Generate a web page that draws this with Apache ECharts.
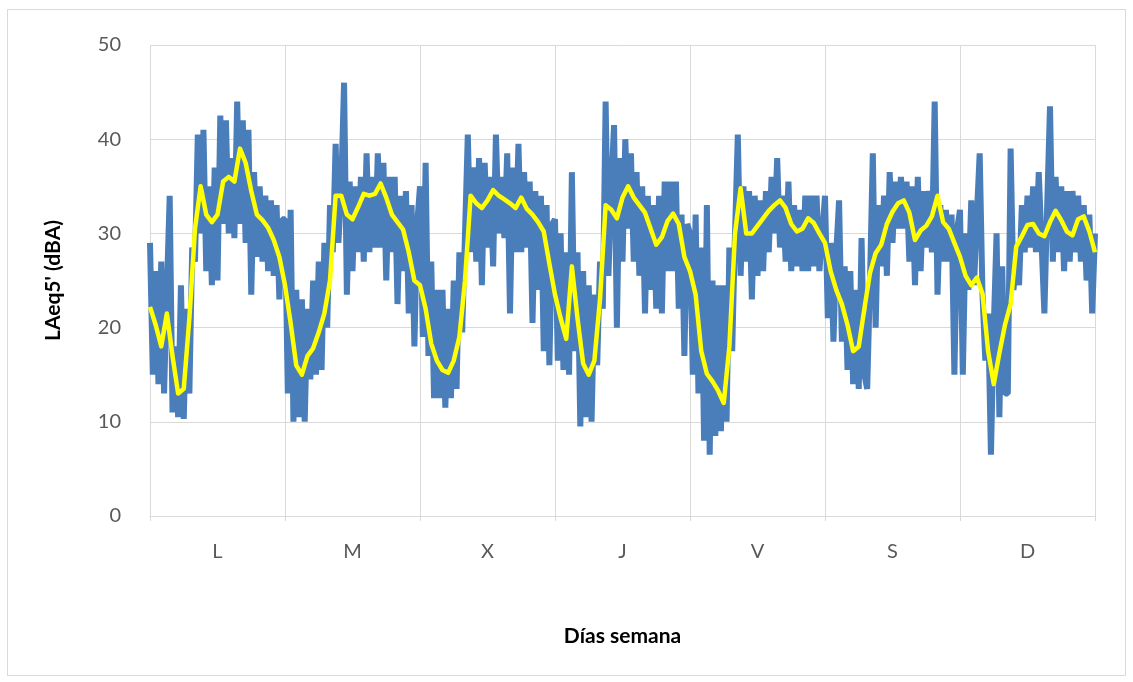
<!DOCTYPE html>
<html>
<head>
<meta charset="utf-8">
<script src="https://cdn.jsdelivr.net/npm/echarts@6/dist/echarts.min.js"></script>
<style>
  html, body { margin: 0; padding: 0; background: #ffffff; }
  #chart { width: 1133px; height: 682px; }
</style>
</head>
<body>
<div id="chart"></div>
<script>
// Day labels along the x axis (one band per day)
const dayLabels = ['L', 'M', 'X', 'J', 'V', 'S', 'D'];

// LAeq 5-minute levels, sampled every half hour (48 values per day)
const blueL = [29, 15, 26, 14, 27, 13, 24, 34, 11, 18, 10.5, 24.5, 10.3, 22, 13, 28.5,
  27, 40.5, 30, 41, 26, 35, 24.5, 37, 25, 42.5, 31, 42, 30, 38, 29.5, 44,
  31, 42, 29, 41, 23.5, 36.5, 27.5, 35, 27, 34, 26, 33.5, 25.5, 33, 23, 31.5];
const blueM = [31.5, 13, 32.5, 10, 24, 10.5, 23, 10, 22, 14.5, 25, 15, 27, 15.5, 29, 20,
  33, 28, 39.5, 29, 35, 46, 23.5, 35.5, 26, 35, 28, 36, 27, 38.5, 28, 36,
  28.5, 38.5, 28.5, 37.5, 25, 36, 28, 36, 22.5, 34, 26, 34.5, 21.5, 33, 18, 31];
const blueX = [35, 19, 37.5, 17, 27, 12.5, 24, 12.5, 24, 11.5, 22, 12.5, 25, 13.5, 28, 19.5,
  30, 40.5, 28, 37, 27, 38, 24.5, 37.5, 28.5, 36, 26.5, 40.5, 30, 36, 29.5, 38.5,
  21.5, 37, 28, 39.5, 28, 36.5, 28.5, 35.5, 20.5, 34.5, 24, 34, 17.5, 33, 16, 31];
const blueJ = [31.5, 16.5, 30, 15.5, 28, 15, 36.5, 17.5, 28, 9.5, 26, 10.5, 24.5, 10, 23.5, 16,
  27, 22, 44, 25.5, 35, 41.5, 20, 38, 27, 40, 30.5, 38.5, 27, 36.5, 25.5, 35,
  21.5, 34, 24, 33, 22, 34, 21.5, 35.5, 26, 35.5, 26, 35.5, 22, 32, 17, 31];
const blueV = [30, 15, 32, 13, 28.5, 8, 33, 6.5, 25, 8.5, 24.5, 9, 24.5, 10, 28.5, 17.5,
  30, 40.5, 25.5, 35, 27, 34.5, 23, 34, 25.5, 33.5, 26, 34.5, 28, 36, 30, 38,
  28.5, 34, 27, 35.5, 26, 33, 26.5, 32.5, 26, 34, 26, 34, 26.5, 34, 26, 30];
const blueS = [34, 21, 29, 18.5, 28, 33.5, 18.5, 26.5, 15.5, 26, 14, 24, 13.5, 29.5, 15, 13.5,
  25, 38.5, 20, 33, 26.5, 34, 25.5, 36.5, 29, 35.5, 30.5, 36, 30.5, 35.5, 27, 35,
  24.5, 36, 26, 34.5, 28.5, 34.5, 28, 44, 23.5, 33, 27, 32.5, 27, 32, 15, 30.5];
const blueD = [32.5, 15, 30, 24, 33.5, 24.5, 32, 38.5, 23.5, 16.5, 21.5, 6.5, 20, 30, 10.5, 26.5,
  13, 13, 39, 24, 27, 24.5, 33, 28, 34, 28.5, 35, 28, 36.5, 29, 21.5, 33,
  43.5, 27, 36, 28, 35, 26, 34.5, 27, 34.5, 28, 34, 27, 33, 25, 32, 21.5, 30];

// Running mean of the same levels, one value per hour
const yellowL = [22.2, 20.3, 18, 21.5, 17, 13, 13.5, 21, 30.5, 35, 32, 31.2,
  32, 35.5, 36, 35.5, 39, 37.5, 34.5, 32, 31.4, 30.6, 29.3, 27.5];
const yellowM = [24.5, 20.5, 16, 15, 17, 17.8, 19.5, 21.5, 25, 34, 34, 32,
  31.5, 32.8, 34.2, 34, 34.2, 35.3, 33.8, 32, 31.2, 30.4, 28, 25];
const yellowX = [24.5, 22, 18.3, 16.5, 15.5, 15.2, 16.5, 19, 25, 34, 33.2, 32.7,
  33.5, 34.6, 34, 33.6, 33.2, 32.7, 33.8, 32.6, 32, 31.2, 30.2, 26.8];
const yellowJ = [23.5, 21, 18.8, 26.5, 21, 16.2, 15, 16.5, 23, 33, 32.5, 31.6,
  33.8, 35, 33.8, 33, 32.2, 30.5, 28.8, 29.6, 31.3, 32.1, 31, 27.5];
const yellowV = [26, 23.5, 17.5, 15.1, 14.3, 13.3, 12, 18, 30, 34.8, 30, 30,
  30.8, 31.6, 32.4, 33, 33.5, 32.7, 31, 30.2, 30.5, 31.6, 31.1, 30];
const yellowS = [29, 26, 24, 22.5, 20.3, 17.5, 18, 22, 25.8, 27.9, 28.8, 31,
  32.3, 33.2, 33.5, 32.2, 29.3, 30.3, 30.8, 31.8, 34, 31.2, 30.5, 29];
const yellowD = [27.5, 25.5, 24.5, 25.3, 23.6, 17.5, 14, 17.3, 20.3, 22.5, 28.6, 29.7,
  30.9, 31, 30, 29.7, 31.2, 32.4, 31.4, 30.2, 29.8, 31.5, 31.8, 30.2, 28];

const blue = [].concat(blueL, blueM, blueX, blueJ, blueV, blueS, blueD);
const yellow = [].concat(yellowL, yellowM, yellowX, yellowJ, yellowV, yellowS, yellowD);

// x position in days: sample index divided by samples per day
const blueData = blue.map((v, i) => [i / 48, v]);
const yellowData = yellow.map((v, i) => [i / 24, v]);

const chart = echarts.init(document.getElementById('chart'), null, { renderer: 'canvas' });

const labelFont = 'Lato, "Open Sans", "Liberation Sans", sans-serif';

chart.setOption({
  animation: false,
  backgroundColor: '#ffffff',
  graphic: [{
    type: 'rect',
    shape: { x: 7.5, y: 9.5, width: 1118, height: 666 },
    style: { fill: 'none', stroke: '#d9d9d9', lineWidth: 1 },
    silent: true
  }],
  grid: { left: 150, right: 38, top: 45, bottom: 166 },
  xAxis: [{
    type: 'value',
    min: 0,
    max: 7,
    interval: 1,
    axisLine: { show: true, lineStyle: { color: '#d9d9d9', width: 1 } },
    axisTick: { show: true, length: 5, lineStyle: { color: '#d9d9d9' } },
    axisLabel: { show: false },
    splitLine: { show: true, lineStyle: { color: '#d9d9d9', width: 1 } }
  }, {
    type: 'category',
    data: dayLabels,
    position: 'bottom',
    boundaryGap: true,
    axisLine: { show: false },
    axisTick: { show: false },
    splitLine: { show: false },
    axisLabel: { margin: 26, color: '#595959', fontSize: 20, fontFamily: labelFont },
    name: 'Días semana',
    nameLocation: 'middle',
    nameGap: 110,
    nameTextStyle: { color: '#000000', fontSize: 21, fontWeight: 'bold', fontFamily: labelFont }
  }],
  yAxis: {
    type: 'value',
    min: 0,
    max: 50,
    interval: 10,
    axisLine: { show: false },
    axisTick: { show: false },
    splitLine: { show: true, lineStyle: { color: '#d9d9d9', width: 1 } },
    axisLabel: { margin: 29, color: '#595959', fontSize: 20, fontFamily: labelFont },
    name: "LAeq5' (dBA)",
    nameLocation: 'middle',
    nameGap: 86,
    nameRotate: 90,
    nameTextStyle: { color: '#000000', fontSize: 21, fontWeight: 'bold', fontFamily: labelFont }
  },
  series: [{
    type: 'line',
    xAxisIndex: 0,
    data: blueData,
    showSymbol: false,
    lineStyle: { color: '#4a7ebb', width: 6, join: 'bevel' },
    itemStyle: { color: '#4a7ebb' },
    z: 2
  }, {
    type: 'line',
    xAxisIndex: 0,
    data: yellowData,
    showSymbol: false,
    lineStyle: { color: '#ffff00', width: 4.5, join: 'round' },
    itemStyle: { color: '#ffff00' },
    z: 3
  }]
});
</script>
</body>
</html>
